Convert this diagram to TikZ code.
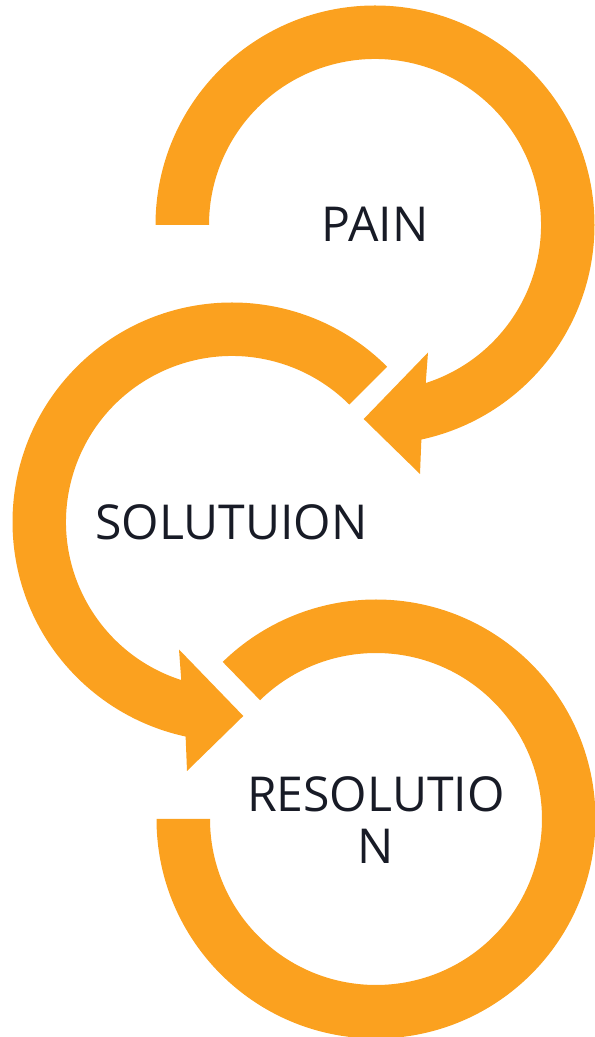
\documentclass[tikz,border=0pt]{standalone}
\usepackage{fontspec}
\setmainfont{Open Sans}
\definecolor{cycorange}{RGB}{251,161,31}
\definecolor{cycink}{RGB}{24,27,38}

\begin{document}
\begin{tikzpicture}[x=1bp, y=1bp,
  ring/.style={fill=cycorange},
  cyctext/.style={text=cycink, font=\fontsize{48.3}{52.3}\selectfont, align=center, inner sep=0pt}]
  \useasboundingbox (0,0) rectangle (595,1037);
  % top ring, clockwise, head points left
  \begin{scope}[shift={(375,812)}]
    \fill[ring] (180:219.5) arc[start angle=180, end angle=-77.8, radius=219.5]
      -- (45,-249) -- (-11.3,-194) -- (53,-127.5)
      -- (-72.2:166) arc[start angle=-72.2, end angle=180, radius=166] -- cycle;
  \end{scope}
  % middle ring, counter-clockwise, head points right
  \begin{scope}[shift={(232,515)}]
    \fill[ring] (45:219.5) arc[start angle=45, end angle=257.8, radius=219.5]
      -- (-45,-249) -- (11.3,-194) -- (-53,-127.5)
      -- (252.2:166) arc[start angle=252.2, end angle=45, radius=166] -- cycle;
  \end{scope}
  % bottom ring, open at the left
  \begin{scope}[shift={(376,218)}]
    \fill[ring] (180:219.5) arc[start angle=180, end angle=494.3, radius=219.5]
      -- (134.3:166) arc[start angle=494.3, end angle=180, radius=166] -- cycle;
  \end{scope}
  \node[cyctext, anchor=base] (pain) at (375,795.3) {PAIN};
  \node[cyctext, anchor=base] (solution) at (231.4,497) {SOLUTUION};
  \node[cyctext] (resolution) at (375.8,217) {RESOLUTIO\\N};
\end{tikzpicture}
\end{document}
